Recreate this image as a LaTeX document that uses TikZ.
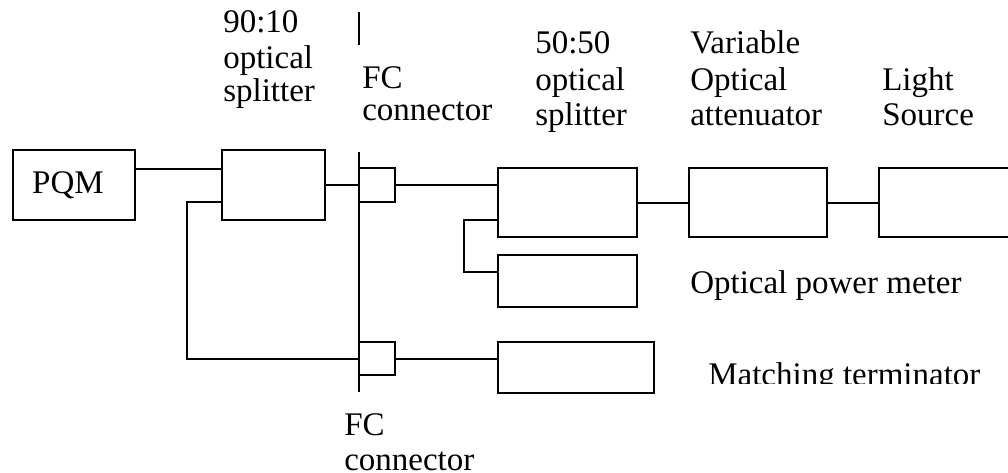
\documentclass[tikz,border=0pt]{standalone}
\usepackage{fontspec}
\setmainfont{Liberation Serif}
\begin{document}
\begin{tikzpicture}[x=0.75pt,y=-0.75pt,
  box/.style={draw,line width=1.5pt,inner sep=0pt,rectangle},
  wire/.style={line width=1.5pt},
  lbl/.style={anchor=base west,inner sep=0pt,font=\fontsize{24.75}{26}\selectfont}]
\useasboundingbox (0,0) rectangle (1008,472);
% boxes
\node[box,minimum width=91.5pt,minimum height=52.5pt,font=\fontsize{24.75}{26}\selectfont] (pqm) at (74,185) {PQM\kern9pt};
\node[box,minimum width=77.25pt,minimum height=52.5pt] (split9) at (273.5,185) {};
\node[box,minimum width=27pt,minimum height=25.5pt] (fc1) at (377,185) {};
\node[box,minimum width=27pt,minimum height=24.75pt] (fc2) at (377,358.5) {};
\node[box,minimum width=104.25pt,minimum height=51.75pt] (split5) at (567.5,202.5) {};
\node[box,minimum width=104.25pt,minimum height=39pt] (opm) at (567.5,281) {};
\node[box,minimum width=117pt,minimum height=38.25pt] (term) at (576,367.5) {};
\node[box,minimum width=103.5pt,minimum height=51.75pt] (voa) at (758,202.5) {};
\node[box,minimum width=113.25pt,minimum height=51.75pt] (ls) at (954.5,202.5) {};
% FC bulkhead line
\coordinate (bustop) at (359,152);
\coordinate (busbot) at (359,392);
\coordinate (marktop) at (359,12);
\coordinate (markbot) at (359,45);
\draw[wire] (bustop) -- (busbot);
\draw[line width=1.8pt] (marktop) -- (markbot);
% connectors
\draw[wire] (pqm.east |- 0,169) -- (split9.west |- 0,169);
\draw[wire] (split9.west |- 0,202) -| (187,358.5) -- (fc2.west);
\draw[wire] (split9.east) -- (fc1.west);
\draw[wire] (fc1.east) -- (split5.west |- fc1.east);
\draw[wire] (split5.west |- 0,220) -| (464,272) -- (opm.west |- 0,272);
\draw[wire] (split5.east) -- (voa.west);
\draw[wire] (voa.east) -- (ls.west);
\draw[wire] (fc2.east) -- (term.west |- fc2.east);
% labels
\node[lbl] (t9a) at (223,32) {90:10};
\node[lbl] (t9b) at (223,68) {optical};
\node[lbl] (t9c) at (223,101) {splitter};
\node[lbl] (fca) at (362,88) {FC};
\node[lbl] (fcb) at (362,120) {connector};
\node[lbl] (t5a) at (535,53) {50:50};
\node[lbl] (t5b) at (535,90) {optical};
\node[lbl] (t5c) at (535,125) {splitter};
\node[lbl] (tva) at (690,53) {Variable};
\node[lbl] (tvb) at (690,90) {Optical};
\node[lbl] (tvc) at (690,125) {attenuator};
\node[lbl] (tla) at (882,90) {Light};
\node[lbl] (tlb) at (882,125) {Source};
\node[lbl] (topm) at (690,293) {Optical power meter};
\begin{scope}
\clip (660,300) rectangle (1008,383);
\node[lbl] (tterm) at (708,385) {Matching terminator};
\end{scope}
\node[lbl] (fcc) at (344,435) {FC};
\node[lbl] (fcd) at (344,470) {connector};
\end{tikzpicture}
\end{document}
